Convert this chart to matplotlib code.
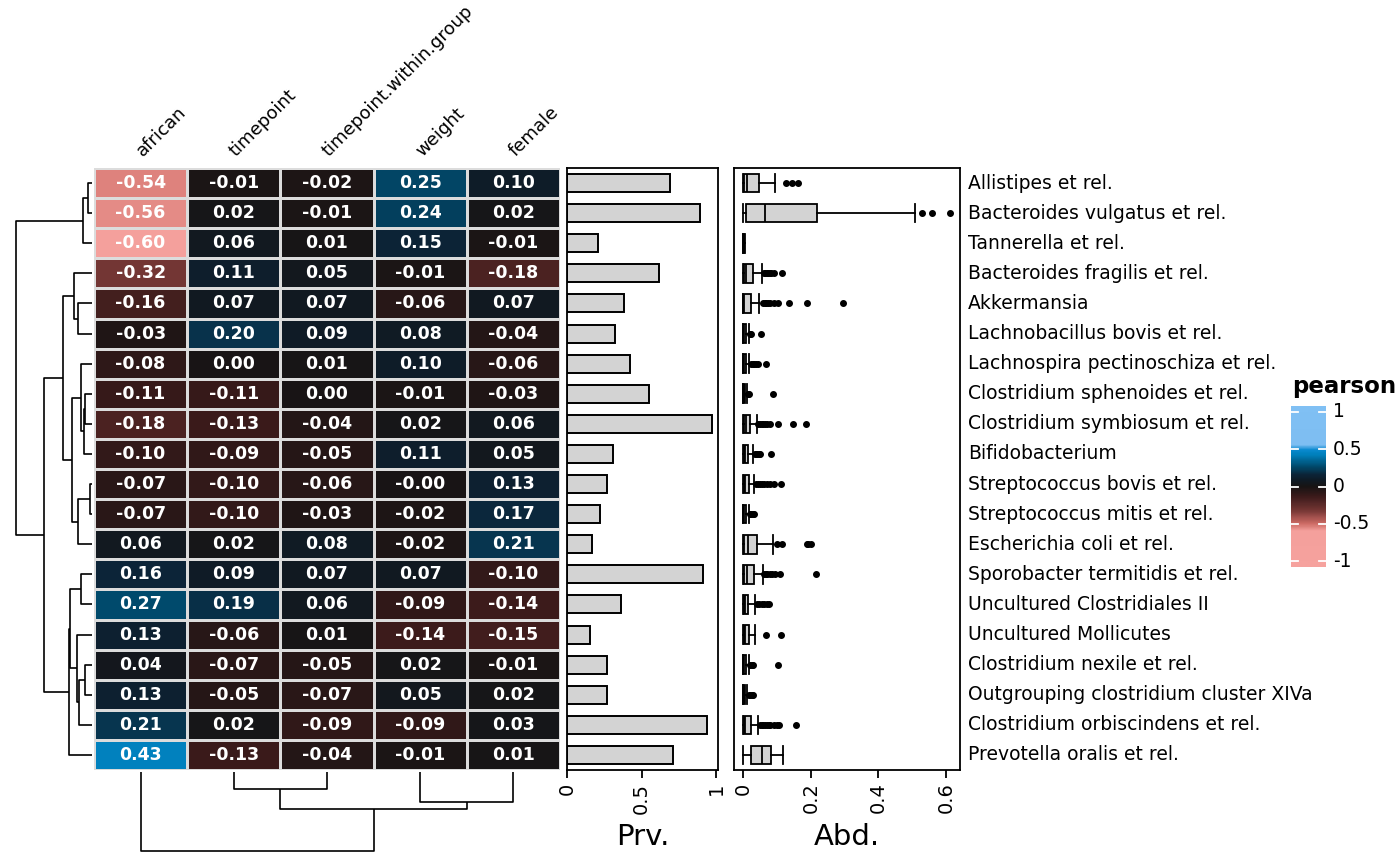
import matplotlib.pyplot as plt
import numpy as np
from matplotlib.colors import LinearSegmentedColormap, Normalize

W, H = 1400, 866

# ---- data ----
taxa = [
    'Allistipes et rel.', 'Bacteroides vulgatus et rel.', 'Tannerella et rel.',
    'Bacteroides fragilis et rel.', 'Akkermansia', 'Lachnobacillus bovis et rel.',
    'Lachnospira pectinoschiza et rel.', 'Clostridium sphenoides et rel.',
    'Clostridium symbiosum et rel.', 'Bifidobacterium', 'Streptococcus bovis et rel.',
    'Streptococcus mitis et rel.', 'Escherichia coli et rel.',
    'Sporobacter termitidis et rel.', 'Uncultured Clostridiales II',
    'Uncultured Mollicutes', 'Clostridium nexile et rel.',
    'Outgrouping clostridium cluster XIVa', 'Clostridium orbiscindens et rel.',
    'Prevotella oralis et rel.',
]
variables = ['african', 'timepoint', 'timepoint.within.group', 'weight', 'female']

pearson = np.array([
    [-0.54, -0.01, -0.02, 0.25, 0.10],
    [-0.56, 0.02, -0.01, 0.24, 0.02],
    [-0.60, 0.06, 0.01, 0.15, -0.01],
    [-0.32, 0.11, 0.05, -0.01, -0.18],
    [-0.16, 0.07, 0.07, -0.06, 0.07],
    [-0.03, 0.20, 0.09, 0.08, -0.04],
    [-0.08, 0.00, 0.01, 0.10, -0.06],
    [-0.11, -0.11, 0.00, -0.01, -0.03],
    [-0.18, -0.13, -0.04, 0.02, 0.06],
    [-0.10, -0.09, -0.05, 0.11, 0.05],
    [-0.07, -0.10, -0.06, -0.0, 0.13],
    [-0.07, -0.10, -0.03, -0.02, 0.17],
    [0.06, 0.02, 0.08, -0.02, 0.21],
    [0.16, 0.09, 0.07, 0.07, -0.10],
    [0.27, 0.19, 0.06, -0.09, -0.14],
    [0.13, -0.06, 0.01, -0.14, -0.15],
    [0.04, -0.07, -0.05, 0.02, -0.01],
    [0.13, -0.05, -0.07, 0.05, 0.02],
    [0.21, 0.02, -0.09, -0.09, 0.03],
    [0.43, -0.13, -0.04, -0.01, 0.01],
])

prevalence = [0.69, 0.89, 0.21, 0.62, 0.38, 0.32, 0.42, 0.55, 0.97, 0.31,
              0.27, 0.22, 0.17, 0.91, 0.36, 0.155, 0.27, 0.27, 0.94, 0.71]

# abundance box stats per taxon
abd_whislo = [0.0, 0.001, 0.0, 0.0, 0.0, 0.0, 0.0, 0.0, 0.0, 0.0,
              0.0, 0.0, 0.0, 0.0, 0.0, 0.0, 0.0, 0.0, 0.0, 0.0]
abd_q1 = [0.002, 0.009, 0.001, 0.002, 0.001, 0.001, 0.001, 0.001, 0.002, 0.002,
          0.002, 0.001, 0.002, 0.003, 0.002, 0.002, 0.001, 0.001, 0.002, 0.023]
abd_med = [0.011, 0.065, 0.002, 0.008, 0.004, 0.003, 0.003, 0.002, 0.008, 0.005,
           0.005, 0.003, 0.013, 0.012, 0.006, 0.006, 0.003, 0.002, 0.006, 0.055]
abd_q3 = [0.048, 0.218, 0.003, 0.028, 0.023, 0.008, 0.009, 0.005, 0.020, 0.015,
          0.017, 0.008, 0.042, 0.032, 0.015, 0.017, 0.008, 0.006, 0.022, 0.082]
abd_whishi = [0.093, 0.508, 0.005, 0.057, 0.048, 0.016, 0.017, 0.010, 0.040, 0.030,
              0.032, 0.016, 0.087, 0.058, 0.035, 0.035, 0.016, 0.012, 0.045, 0.119]
abd_fliers = [
    [0.128, 0.143, 0.163],
    [0.53, 0.557, 0.61],
    [],
    [0.062, 0.066, 0.070, 0.074, 0.078, 0.083, 0.090, 0.116],
    [0.060, 0.064, 0.068, 0.073, 0.080, 0.090, 0.104, 0.137, 0.190, 0.296],
    [0.020, 0.024, 0.052],
    [0.022, 0.028, 0.033, 0.038, 0.045, 0.068],
    [0.014, 0.018, 0.088],
    [0.045, 0.050, 0.055, 0.060, 0.065, 0.070, 0.080, 0.102, 0.147, 0.186],
    [0.034, 0.038, 0.042, 0.046, 0.050, 0.082],
    [0.038, 0.045, 0.050, 0.056, 0.062, 0.070, 0.080, 0.090, 0.111],
    [0.020, 0.024, 0.028, 0.032],
    [0.100, 0.114, 0.188, 0.193, 0.200],
    [0.062, 0.067, 0.072, 0.078, 0.085, 0.095, 0.109, 0.216],
    [0.042, 0.048, 0.055, 0.062, 0.070, 0.076],
    [0.068, 0.111],
    [0.020, 0.025, 0.030, 0.102],
    [0.016, 0.020, 0.025, 0.030],
    [0.050, 0.055, 0.060, 0.065, 0.070, 0.075, 0.080, 0.090, 0.100, 0.105, 0.156],
    [],
]

# dendrogram merges: (left id, right id, height); ids >= n are earlier merges
row_links = [
    (0, 1, 4.0), (20, 2, 9.0), (4, 5, 14.0), (3, 22, 18.3),
    (7, 8, 6.7), (24, 9, 8.3), (6, 25, 10.7), (10, 11, 2.3),
    (27, 12, 14.0), (26, 28, 20.0), (23, 29, 29.0), (13, 14, 10.7),
    (16, 17, 6.7), (32, 18, 12.7), (15, 33, 15.0), (31, 34, 21.7),
    (35, 19, 23.3), (30, 36, 48.3), (21, 37, 76.0),
]
col_links = [(1, 2, 17.3), (3, 4, 29.7), (5, 6, 37.0), (0, 7, 78.7)]

legend_ticks = [-1, -0.5, 0, 0.5, 1]

# ---- colour mapping ----
cmap = LinearSegmentedColormap.from_list('pearson', [
    (0.0, '#F6A29E'), (0.2, '#F4A09C'), (0.25, '#CC6A64'), (0.34, '#743634'),
    (0.435, '#3A1A1A'), (0.5, '#181414'), (0.55, '#0E1C28'), (0.58, '#0C2438'),
    (0.635, '#004A6C'), (0.715, '#0080BC'), (0.75, '#0A8AD0'), (0.78, '#7EBEF2'),
    (1.0, '#80C0F4'),
])
norm = Normalize(-1, 1)

fig = plt.figure(figsize=(W / 100, H / 100), dpi=100)


def add_ax(x0, y0, x1, y1):
    return fig.add_axes([x0 / W, 1 - y1 / H, (x1 - x0) / W, (y1 - y0) / H])


def draw_dendro(ax, links, n, horizontal):
    pos = {i: float(i) for i in range(n)}
    hgt = {i: 0.0 for i in range(n)}
    for k, (a, b, h) in enumerate(links):
        xs = [hgt[a], h, h, hgt[b]]
        ys = [pos[a], pos[a], pos[b], pos[b]]
        if horizontal:
            ax.plot(xs, ys, color='black', lw=1.2, solid_capstyle='butt')
        else:
            ax.plot(ys, xs, color='black', lw=1.2, solid_capstyle='butt')
        pos[n + k] = (pos[a] + pos[b]) / 2
        hgt[n + k] = h


n_rows, n_cols = pearson.shape
top, bottom = 168, 770

# heatmap
ax_hm = add_ax(94, top, 560, bottom)
ax_hm.pcolormesh(np.arange(n_cols + 1) - 0.5, np.arange(n_rows + 1) - 0.5, pearson,
                 cmap=cmap, norm=norm, edgecolors='#dcdcdc', linewidth=0.8)
for i in range(n_rows):
    for j in range(n_cols):
        ax_hm.text(j, i, f'{pearson[i, j]:.2f}', ha='center', va='center',
                   color='white', fontsize=12.5, fontweight='bold')
for j, name in enumerate(variables):
    ax_hm.text(j + 0.02, -0.87, name, rotation=45, rotation_mode='anchor',
               ha='left', va='baseline', fontsize=13)
ax_hm.set_xlim(-0.5, n_cols - 0.5)
ax_hm.set_ylim(n_rows - 0.5, -0.5)
ax_hm.axis('off')

# row dendrogram
ax_rd = add_ax(14, top, 92, bottom)
draw_dendro(ax_rd, row_links, n_rows, horizontal=True)
ax_rd.set_xlim(78, 0)
ax_rd.set_ylim(n_rows - 0.5, -0.5)
ax_rd.axis('off')

# column dendrogram
ax_cd = add_ax(94, 772, 560, 852)
draw_dendro(ax_cd, col_links, n_cols, horizontal=False)
ax_cd.set_xlim(-0.5, n_cols - 0.5)
ax_cd.set_ylim(80, 0)
ax_cd.axis('off')

# prevalence bars
ax_bar = add_ax(567, top, 718, bottom)
ax_bar.barh(np.arange(n_rows), prevalence, height=0.6, color='#d3d3d3',
            edgecolor='black', linewidth=1.4)
ax_bar.set_xlim(0, 1.013)
ax_bar.set_ylim(n_rows - 0.5, -0.5)
ax_bar.set_xticks([0, 0.5, 1])
ax_bar.set_xticklabels(['0', '0.5', '1'], rotation=90, fontsize=14)
ax_bar.set_yticks([])
ax_bar.set_xlabel('Prv.', fontsize=21, labelpad=7)

# abundance boxplots
stats = []
for i in range(n_rows):
    stats.append(dict(whislo=abd_whislo[i], q1=abd_q1[i], med=abd_med[i],
                      q3=abd_q3[i], whishi=abd_whishi[i], fliers=abd_fliers[i]))
ax_box = add_ax(734, top, 960, bottom)
ax_box.bxp(stats, positions=np.arange(n_rows), widths=0.62, capwidths=0.62,
           orientation='horizontal', patch_artist=True,
           boxprops=dict(facecolor='#d3d3d3', edgecolor='black', linewidth=1.3),
           medianprops=dict(color='black', linewidth=1.3),
           whiskerprops=dict(color='black', linewidth=1.3),
           capprops=dict(color='black', linewidth=1.3),
           flierprops=dict(marker='o', markerfacecolor='black',
                           markeredgecolor='black', markersize=4))
ax_box.set_xlim(-0.027, 0.641)
ax_box.set_ylim(n_rows - 0.5, -0.5)
ax_box.set_xticks([0, 0.2, 0.4, 0.6])
ax_box.set_xticklabels(['0', '0.2', '0.4', '0.6'], rotation=90, fontsize=14)
ax_box.set_yticks([])
ax_box.set_xlabel('Abd.', fontsize=21, labelpad=7)

for ax in (ax_bar, ax_box):
    for sp in ax.spines.values():
        sp.set_linewidth(1.3)
    ax.tick_params(axis='x', length=6, width=1.3, pad=3)

# row labels
for i, name in enumerate(taxa):
    ax_box.text(1.035, i, name, transform=ax_box.get_yaxis_transform(),
                ha='left', va='center', fontsize=13.5)

# legend
fig.text(1292 / W, 1 - 386 / H, 'pearson', fontsize=16.5, fontweight='bold',
         ha='left', va='center')
ax_lg = add_ax(1291, 406, 1326, 567)
grad = np.linspace(-1.08, 1.08, 300).reshape(-1, 1)
ax_lg.imshow(grad, cmap=cmap, norm=norm, aspect='auto', origin='lower',
             extent=[0, 1, -1.08, 1.08])
for t in legend_ticks:
    ax_lg.plot([0, 0.2], [t, t], color='white', lw=1.3)
    ax_lg.plot([0.8, 1], [t, t], color='white', lw=1.3)
    ax_lg.text(1.2, t, f'{t:g}', ha='left', va='center', fontsize=13.5)
ax_lg.set_xlim(0, 1)
ax_lg.set_ylim(-1.08, 1.08)
ax_lg.axis('off')

fig.savefig('out.png', dpi=100)
